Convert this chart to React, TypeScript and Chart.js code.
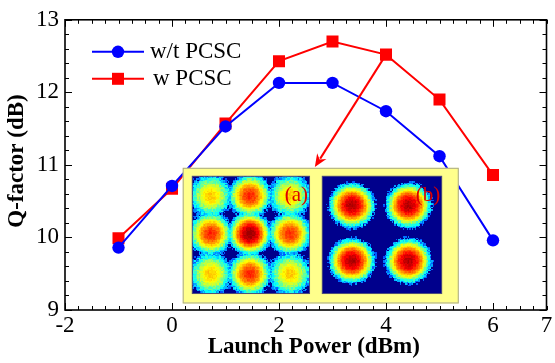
import React, { useEffect, useRef } from 'react';
import { Chart, registerables } from 'chart.js';

Chart.register(...registerables);

// ---- data ----
const launchPower = [-1, 0, 1, 2, 3, 4, 5, 6];
const qWithoutPCSC = [9.86, 10.71, 11.53, 12.13, 12.13, 11.74, 11.12, 9.96];
const qWithPCSC = [9.99, 10.67, 11.57, 12.43, 12.7, 12.52, 11.9, 10.86];
const seriesLabels = ['w/t PCSC', 'w PCSC'];
const seriesColors = ['#0000ff', '#ff0000'];
const xTicks = [-2, 0, 2, 4, 6, 7];
const yTicks = [9, 10, 11, 12, 13];
const xRange = [-2, 7];
const yRange = [9, 13];
const xTitle = 'Launch Power (dBm)';
const yTitle = 'Q-factor (dB)';
const insetLabels = ['(a)', '(b)'];
// constellation blobs: [u, v, peak level, spread]
const constellationA = [
  [0.16, 0.17, 0.68, 14], [0.49, 0.17, 0.84, 18], [0.83, 0.17, 0.68, 14],
  [0.16, 0.49, 0.84, 18], [0.49, 0.49, 0.98, 22], [0.83, 0.49, 0.83, 18],
  [0.16, 0.83, 0.68, 14], [0.49, 0.83, 0.84, 18], [0.83, 0.83, 0.68, 14],
];
const constellationB = [
  [0.25, 0.25, 0.95, 19], [0.72, 0.25, 0.95, 19],
  [0.25, 0.72, 0.95, 19], [0.72, 0.72, 0.95, 19],
];

const FONT = '"Liberation Serif", "Times New Roman", serif';

function jet(v: number): [number, number, number] {
  const c = (x: number) => Math.max(0, Math.min(1, x));
  return [c(1.5 - Math.abs(4 * v - 3)), c(1.5 - Math.abs(4 * v - 2)), c(1.5 - Math.abs(4 * v - 1))];
}

function hash(i: number, j: number, seed: number) {
  let h = (Math.imul(i, 374761393) + Math.imul(j, 668265263) + Math.imul(seed, 1442695041)) | 0;
  h = Math.imul(h ^ (h >>> 13), 1274126177);
  h = h ^ (h >>> 16);
  return (h >>> 0) / 4294967296;
}

function makePanel(blobs: number[][], n: number, seed: number) {
  const cv = document.createElement('canvas');
  cv.width = n;
  cv.height = n;
  const cx = cv.getContext('2d')!;
  const img = cx.createImageData(n, n);
  const c = 0.05;
  for (let j = 0; j < n; j++) {
    for (let i = 0; i < n; i++) {
      const u = (i + 0.5) / n;
      const w = (j + 0.5) / n;
      let S = 0;
      for (const b of blobs) {
        const r2 = (u - b[0]) ** 2 + (w - b[1]) ** 2;
        S += Math.exp((b[2] - b[3] * r2 - 1) / c);
      }
      const v = 1 + c * Math.log(S);
      const amp = v < 0.35 ? 0.2 : v < 0.55 ? 0.12 : 0.05;
      const vn = v + (hash(i, j, seed) - 0.5) * amp;
      let col: [number, number, number];
      if (vn < 0.2) col = [0, 0, 0.55];
      else col = jet(Math.min(0.97, Math.max(0.16, vn)));
      const k = (j * n + i) * 4;
      img.data[k] = col[0] * 255;
      img.data[k + 1] = col[1] * 255;
      img.data[k + 2] = col[2] * 255;
      img.data[k + 3] = 255;
    }
  }
  cx.putImageData(img, 0, 0);
  return cv;
}

const decorPlugin = {
  id: 'decor',
  afterDatasetsDraw(chart: any) {
    const { ctx, chartArea } = chart;
    const xs = chart.scales.x;
    const ys = chart.scales.y;
    const px = (v: number) => xs.getPixelForValue(v);
    const py = (v: number) => ys.getPixelForValue(v);

    // ---- inset ----
    ctx.save();
    const bx0 = px(0.2), bx1 = px(5.36), by0 = py(10.96), by1 = py(9.09);
    ctx.fillStyle = '#ffff8c';
    ctx.fillRect(bx0, by0, bx1 - bx0, by1 - by0);
    ctx.strokeStyle = '#a8a88a';
    ctx.lineWidth = 1;
    ctx.strokeRect(bx0 + 0.5, by0 + 0.5, bx1 - bx0 - 1, by1 - by0 - 1);
    const pTop = py(10.85), pBot = py(9.22);
    const panels = [
      { x0: px(0.37), x1: px(2.58), blobs: constellationA, seed: 3 },
      { x0: px(2.8), x1: px(5.05), blobs: constellationB, seed: 7 },
    ];
    ctx.imageSmoothingEnabled = false;
    panels.forEach((p, idx) => {
      const cv = makePanel(p.blobs, 88, p.seed);
      ctx.drawImage(cv, p.x0, pTop, p.x1 - p.x0, pBot - pTop);
      ctx.strokeStyle = '#50507a';
      ctx.lineWidth = 1;
      ctx.strokeRect(p.x0 + 0.5, pTop + 0.5, p.x1 - p.x0 - 1, pBot - pTop - 1);
      ctx.fillStyle = '#dd0000';
      ctx.font = `21px ${FONT}`;
      ctx.textAlign = 'right';
      ctx.textBaseline = 'alphabetic';
      ctx.fillText(insetLabels[idx], p.x1 - 2, pTop + 25);
    });
    ctx.restore();

    // ---- arrow ----
    ctx.save();
    const ax0 = px(launchPower[5]), ay0 = py(qWithPCSC[5]);
    const ax1 = px(2.67), ay1 = py(10.97);
    const ang = Math.atan2(ay1 - ay0, ax1 - ax0);
    const hl = 13, hw = 5.5;
    ctx.strokeStyle = '#ff0000';
    ctx.fillStyle = '#ff0000';
    ctx.lineWidth = 2;
    ctx.beginPath();
    ctx.moveTo(ax0, ay0);
    ctx.lineTo(ax1 - Math.cos(ang) * (hl - 3), ay1 - Math.sin(ang) * (hl - 3));
    ctx.stroke();
    ctx.beginPath();
    ctx.moveTo(ax1, ay1);
    ctx.lineTo(ax1 - Math.cos(ang) * hl - Math.sin(ang) * hw, ay1 - Math.sin(ang) * hl + Math.cos(ang) * hw);
    ctx.lineTo(ax1 - Math.cos(ang) * (hl - 4), ay1 - Math.sin(ang) * (hl - 4));
    ctx.lineTo(ax1 - Math.cos(ang) * hl + Math.sin(ang) * hw, ay1 - Math.sin(ang) * hl - Math.cos(ang) * hw);
    ctx.closePath();
    ctx.fill();
    ctx.restore();

    // ---- legend ----
    ctx.save();
    const lx0 = chartArea.left + 27, lx1 = chartArea.left + 79, lm = chartArea.left + 53;
    const rows = [chartArea.top + 32, chartArea.top + 59];
    rows.forEach((ry, i) => {
      ctx.strokeStyle = seriesColors[i];
      ctx.fillStyle = seriesColors[i];
      ctx.lineWidth = 2;
      ctx.beginPath();
      ctx.moveTo(lx0, ry);
      ctx.lineTo(lx1, ry);
      ctx.stroke();
      ctx.beginPath();
      if (i === 0) ctx.arc(lm, ry, 6.2, 0, Math.PI * 2);
      else ctx.rect(lm - 6, ry - 6, 12, 12);
      ctx.fill();
      ctx.fillStyle = '#000';
      ctx.font = `23px ${FONT}`;
      ctx.textAlign = 'left';
      ctx.textBaseline = 'alphabetic';
      ctx.fillText(seriesLabels[i], i === 0 ? lx1 + 6 : lx1 + 9, ry + 6);
    });
    ctx.restore();

    // ---- frame & ticks ----
    ctx.save();
    const { left, right, top, bottom } = chartArea;
    ctx.strokeStyle = '#000';
    ctx.lineWidth = 1;
    const major = 7, minor = 4;
    ctx.beginPath();
    for (let v = xRange[0]; v <= xRange[1] + 1e-9; v += 0.25) {
      const isMajor = Math.abs(v / 2 - Math.round(v / 2)) < 1e-6;
      const L = isMajor ? major : minor;
      const x = Math.round(px(v)) + 0.5;
      ctx.moveTo(x, bottom);
      ctx.lineTo(x, bottom - L);
      ctx.moveTo(x, top);
      ctx.lineTo(x, top + L);
    }
    for (let v = yRange[0]; v <= yRange[1] + 1e-9; v += 0.2) {
      const isMajor = Math.abs(v - Math.round(v)) < 1e-6;
      const L = isMajor ? major : minor;
      const y = Math.round(py(v)) + 0.5;
      ctx.moveTo(left, y);
      ctx.lineTo(left + L, y);
      ctx.moveTo(right, y);
      ctx.lineTo(right - L, y);
    }
    ctx.stroke();
    ctx.lineWidth = 1.6;
    ctx.strokeRect(left, top, right - left, bottom - top);
    ctx.restore();

    // ---- titles ----
    ctx.save();
    ctx.fillStyle = '#000';
    ctx.font = `bold 23px ${FONT}`;
    ctx.textAlign = 'center';
    ctx.textBaseline = 'middle';
    ctx.fillText(xTitle, (left + right) / 2 + 8, 347);
    ctx.translate(17, 161);
    ctx.rotate(-Math.PI / 2);
    ctx.fillText(yTitle, 0, 0);
    ctx.restore();
  },
};

export default function App() {
  const ref = useRef<HTMLCanvasElement>(null);
  useEffect(() => {
    document.body.style.margin = '0';
    const chart = new Chart(ref.current!, {
      type: 'line',
      data: {
        datasets: [
          {
            label: seriesLabels[0],
            data: launchPower.map((x, i) => ({ x, y: qWithoutPCSC[i] })),
            borderColor: seriesColors[0],
            backgroundColor: seriesColors[0],
            borderWidth: 2,
            pointStyle: 'circle',
            pointRadius: 6.2,
            pointBorderWidth: 0,
            tension: 0,
          },
          {
            label: seriesLabels[1],
            data: launchPower.map((x, i) => ({ x, y: qWithPCSC[i] })),
            borderColor: seriesColors[1],
            backgroundColor: seriesColors[1],
            borderWidth: 2,
            pointStyle: 'rect',
            pointRadius: 8.5,
            pointBorderWidth: 0,
            tension: 0,
          },
        ],
      },
      options: {
        responsive: false,
        animation: false,
        events: [],
        layout: { padding: { left: 0, top: 17, right: 8, bottom: 0 } },
        plugins: { legend: { display: false }, tooltip: { enabled: false } },
        scales: {
          x: {
            type: 'linear',
            min: xRange[0],
            max: xRange[1],
            afterBuildTicks: (s: any) => { s.ticks = xTicks.map((value) => ({ value })); },
            afterFit: (s: any) => { s.height = 53; },
            grid: { display: false, drawTicks: false },
            border: { display: false },
            ticks: { color: '#000', font: { family: FONT, size: 23 }, padding: 2, maxRotation: 0, autoSkip: false },
          },
          y: {
            type: 'linear',
            min: yRange[0],
            max: yRange[1],
            afterBuildTicks: (s: any) => { s.ticks = yTicks.map((value) => ({ value })); },
            afterFit: (s: any) => { s.width = 65; },
            grid: { display: false, drawTicks: false },
            border: { display: false },
            ticks: { color: '#000', font: { family: FONT, size: 23 }, padding: 6 },
          },
        },
      },
      plugins: [decorPlugin],
    });
    return () => chart.destroy();
  }, []);
  return (
    <div style={{ position: 'absolute', left: 0, top: 0, width: 555, height: 363 }}>
      <canvas ref={ref} width={555} height={363} />
    </div>
  );
}
